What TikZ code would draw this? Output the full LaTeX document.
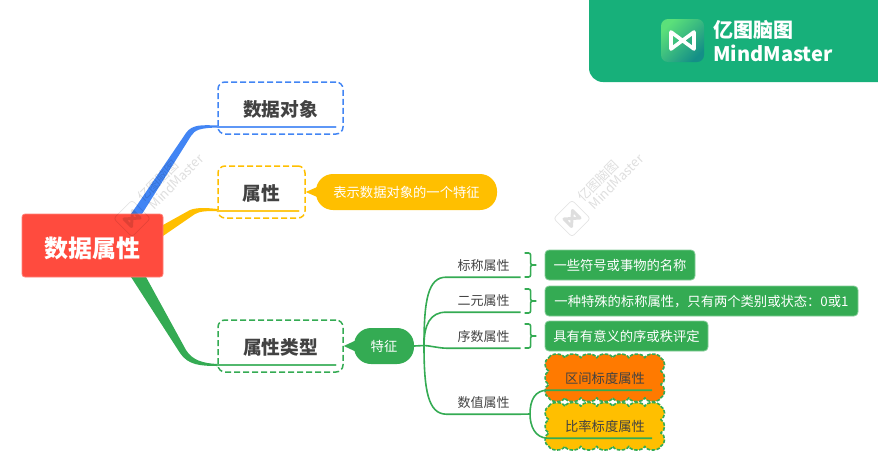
\documentclass[tikz,border=0pt]{standalone}
\usepackage{fontspec}
\setmainfont{Noto Sans CJK SC}
\usepackage{xcolor}
\usepackage{tikz}
\usetikzlibrary{calc, backgrounds}
\definecolor{rootred}{HTML}{FF4B3E}
\definecolor{mapblue}{HTML}{4285F4}
\definecolor{mapyellow}{HTML}{FFBF00}
\definecolor{mapgreen}{HTML}{34AB53}
\definecolor{maporange}{HTML}{FF7A00}
\definecolor{logogreen}{HTML}{17B07A}
\definecolor{logolight}{HTML}{5BE07A}
\definecolor{logodark}{HTML}{148F87}
\definecolor{inkgray}{HTML}{424242}
\tikzset{
    root_node/.style={
        rectangle, rounded corners=3pt, minimum width=141pt, minimum height=63pt, inner sep=0pt, text height=24pt, text depth=0pt,
        draw=rootred!70!white, line width=0.8pt, fill=rootred, text=white, font=\fontsize{24}{28}\selectfont\bfseries
    },
    topic_node/.style={
        rectangle, rounded corners=7pt, minimum height=52pt, inner sep=0pt, line width=1.5pt, text height=18pt, text depth=2pt,
        dash pattern=on 6pt off 3pt, text=inkgray, font=\fontsize{18.7}{22}\selectfont\bfseries
    },
    pill_node/.style={
        rectangle, rounded corners=17pt, inner sep=0pt, text=white, font=\fontsize{13.3}{16}\selectfont
    },
    tag_node/.style={
        rectangle, minimum width=74pt, minimum height=24pt, inner sep=0pt, text height=13pt, text depth=2pt,
        text=inkgray, font=\fontsize{13}{16}\selectfont
    },
    note_node/.style={
        rectangle, rounded corners=4pt, minimum height=30pt, inner sep=0pt, text height=13pt, text depth=2pt,
        draw=mapgreen!60!white, line width=0.8pt, fill=mapgreen, text=white, font=\fontsize{13.3}{16}\selectfont
    },
    cloud_node/.style={
        rectangle, minimum width=112pt, minimum height=40pt, inner sep=0pt,
        text=inkgray, font=\fontsize{13.3}{16}\selectfont
    },
    cloud_line/.style={
        draw=mapgreen, line width=1.6pt, line join=round, dash pattern=on 3.5pt off 1.5pt
    },
    line_green/.style={
        draw=mapgreen, line width=1.6pt
    },
    under_line/.style={
        line width=1.8pt, line cap=round
    },
    mark_text/.style={
        text=black, text opacity=0.13, rotate=45, inner sep=0pt, font=\fontsize{13}{15}\selectfont
    },
    mark_box/.style={
        rectangle, rotate=45, rounded corners=3pt, draw=black, draw opacity=0.1, line width=0.8pt, minimum size=26pt, inner sep=0pt
    }
}
\begin{document}
\begin{tikzpicture}[x=1pt, y=-1pt]
    \useasboundingbox (0,0) rectangle (878,472);

    \fill[mapblue] (131,214) -- (142,214) -- (191,136) .. controls (195,130) and (199,128) .. (218,127.5)
        -- (218,125.5) .. controls (203,125) and (192,124) .. (186,133) -- cycle;
    \fill[mapyellow] (163,225) -- (163,236) -- (195,214) .. controls (200,211) and (208,211) .. (218,211)
        -- (218,209) .. controls (208,208) and (198,207) .. (190,210) -- cycle;
    \fill[mapgreen] (131,277) -- (146,277) -- (186,350) .. controls (192,360) and (203,363.5) .. (218,364)
        -- (218,366) .. controls (200,366) and (188,365) .. (180,353) -- cycle;

    \node[root_node] (root) at (92.5,245.5) {数据属性};
    \node[topic_node, draw=mapblue, minimum width=125pt] (object) at (280.5,108) {数据对象};
    \node[topic_node, draw=mapyellow, minimum width=87pt] (attr) at (261.5,192) {属性};
    \node[topic_node, draw=mapgreen, minimum width=125pt] (types) at (280.5,346) {属性类型};

    \draw[under_line, draw=mapblue!85!white] ($(object.south west)+(0,-7.5)$) -- ($(object.south east)+(-8,-7.5)$);
    \draw[under_line, draw=mapyellow!85!white] ($(attr.south west)+(0,-8)$) -- ($(attr.south east)+(-7,-8)$);
    \draw[under_line, draw=mapgreen!85!white] ($(types.south west)+(0,-7.5)$) -- ($(types.south east)+(-8,-7.5)$);

    \node[pill_node, fill=mapyellow, minimum width=181pt, minimum height=36pt] (meaning) at (406.5,192) {表示数据对象的一个特征};
    \fill[mapyellow] (attr.east) -- ($(meaning.west)+(6,-7)$) -- ($(meaning.west)+(6,7)$) -- cycle;
    \node[pill_node, fill=mapgreen, minimum width=60pt, minimum height=36pt] (feature) at (384,346) {特征};
    \fill[mapgreen] (types.east) -- ($(feature.west)+(5,-7)$) -- ($(feature.west)+(5,7)$) -- cycle;

    \node[tag_node] (nominal) at (483.5,265) {标称属性};
    \node[tag_node] (binary) at (483.5,300) {二元属性};
    \node[tag_node] (ordinal) at (483.5,336) {序数属性};
    \node[tag_node] (numeric) at (483.5,402) {数值属性};
    \node[note_node, minimum width=150pt] (nominal_note) at (620,265) {一些符号或事物的名称};
    \node[note_node, minimum width=313pt] (binary_note) at (701.5,301) {一种特殊的标称属性，只有两个类别或状态：0或1};
    \node[note_node, minimum width=163pt] (ordinal_note) at (626.5,336) {具有有意义的序或秩评定};
    \node[cloud_node] (interval) at (605,378) {区间标度属性};
    \node[cloud_node] (ratio) at (605,426.5) {比率标度属性};

    \begin{scope}[on background layer]
    \foreach \name/\shade in {interval/maporange, ratio/mapyellow} {
        \draw[cloud_line, fill=\shade] (\name.north west)
            foreach \i in {1,...,7} { .. controls +(2,-5) and +(-2,-5) .. ++(16,0) }
            foreach \i in {1,2,3} { .. controls +(5,2) and +(5,-2) .. ++(0,13.33) }
            foreach \i in {1,...,7} { .. controls +(-2,5) and +(2,5) .. ++(-16,0) }
            foreach \i in {1,2,3} { .. controls +(-5,-2) and +(-5,2) .. ++(0,-13.33) } -- cycle;
    }
    \end{scope}

    \coordinate (spine) at (424,345.5);
    \coordinate (hub) at (530,414);
    \draw[line_green] (feature.east) -- (spine);
    \draw[line_green] (spine) .. controls (424,300) and (428,277) .. (nominal.south west) -- (nominal.south east);
    \draw[line_green] (spine) .. controls (424,325) and (430,312) .. (binary.south west) -- (binary.south east);
    \draw[line_green] (spine) .. controls (432,346) and (438,348) .. (ordinal.south west) -- (ordinal.south east);
    \draw[line_green] (spine) .. controls (424,390) and (428,414) .. (numeric.south west) -- (numeric.south east) -- (hub);
    \draw[line_green] (hub) .. controls (530,400) and (535,390) .. ($(interval.south west)+(-1,-8)$) -- ($(interval.south east)+(-9,-8)$);
    \draw[line_green] (hub) .. controls (530,426) and (535,438) .. ($(ratio.south west)+(-1,-8.5)$) -- ($(ratio.south east)+(-9,-8.5)$);

    \foreach \name in {nominal, binary, ordinal} {
        \draw[line_green, rounded corners=2pt] ($(\name_note.west)+(-20,-12)$) -- ++(6,0) -- ++(0,12) -- ++(7,0) -- ++(-7,0) -- ++(0,12) -- ++(-6,0);
    }

    \foreach \wmx/\wmid in {132/left, 572/right} {
        \node[mark_box] (box_\wmid) at (\wmx,218.5) {};
        \draw[black, draw opacity=0.13, line width=3pt, line join=round] ($(box_\wmid)+(-8,0.5)$) -- ($(box_\wmid)+(8,-0.5)$) -- ($(box_\wmid)+(0.5,-8)$) -- ($(box_\wmid)+(-0.5,8)$) -- cycle;
        \node[mark_text] (cn_\wmid) at (\wmx+26,181) {亿图脑图};
        \node[mark_text] (en_\wmid) at (\wmx+44,181.5) {MindMaster};
    }

    \fill[logogreen] (589,0) [rounded corners=14pt] -- (589,82) [sharp corners] -- (878,82) -- (878,0) -- cycle;
    \node[rectangle, rounded corners=7pt, minimum size=43pt, inner sep=0pt, top color=logolight, bottom color=logodark, shading angle=45] (logo) at (682.5,40.5) {};
    \draw[white, line width=3.6pt, line join=round] ($(logo)+(-11.5,-8.5)$) -- ($(logo)+(11.5,8.5)$) -- ($(logo)+(11.5,-8.5)$) -- ($(logo)+(-11.5,8.5)$) -- cycle;
    \node[anchor=west, inner sep=0pt, text=white, font=\fontsize{20}{24}\selectfont\bfseries] (logo_cn) at (713,30) {亿图脑图};
    \node[anchor=west, inner sep=0pt, text=white, font=\fontsize{20}{24}\selectfont\bfseries] (logo_en) at (713,53) {MindMaster};
\end{tikzpicture}
\end{document}
